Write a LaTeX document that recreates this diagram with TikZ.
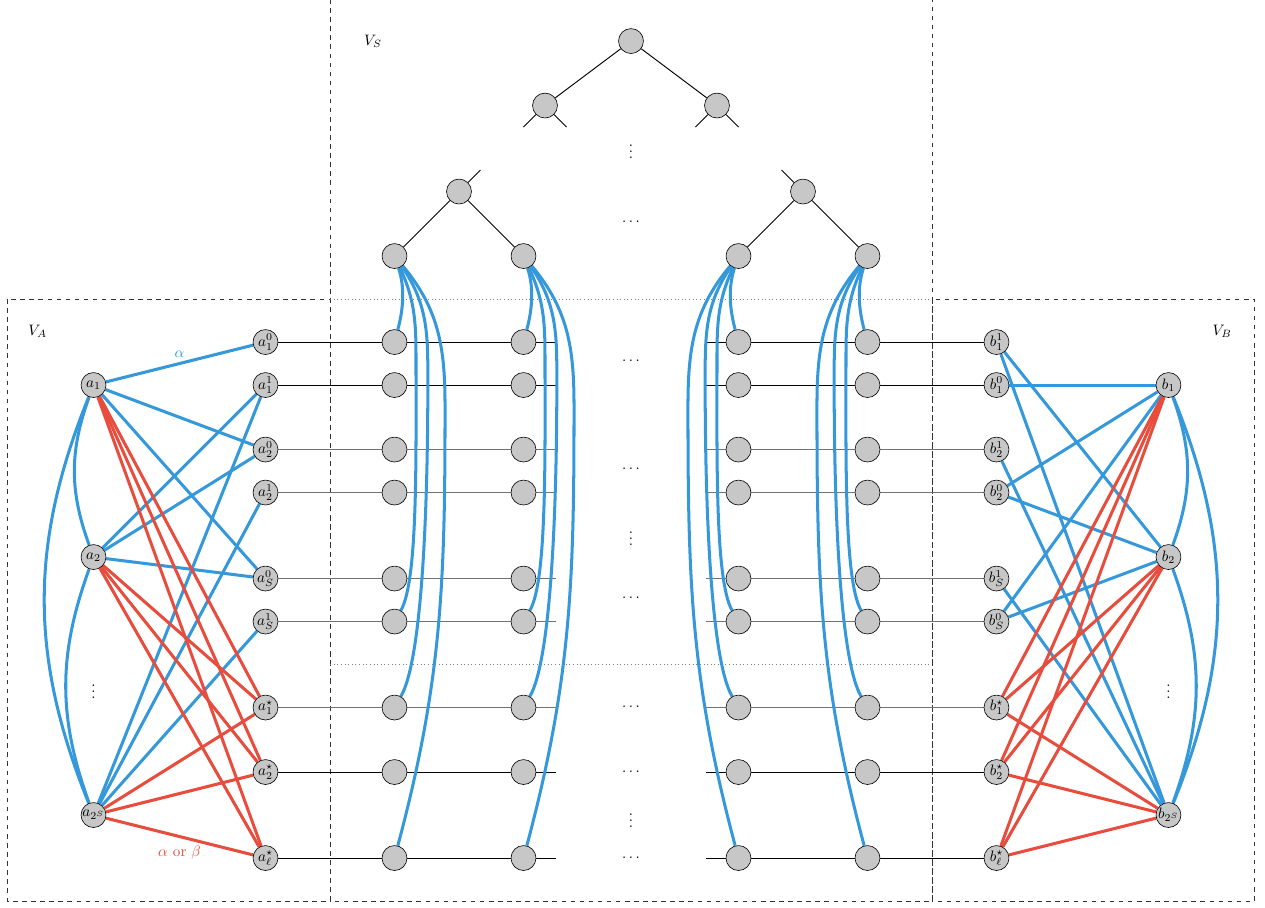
\documentclass[tikz,border=0pt]{standalone}
\usetikzlibrary{backgrounds}
\definecolor{eblue}{HTML}{3498DB}
\definecolor{ered}{HTML}{E74C3C}
\tikzset{
	vx/.style={circle,draw,fill=black!22,minimum size=0.58cm,inner sep=0pt},
	eb/.style={line width=2pt,eblue},
	er/.style={line width=2pt,ered},
	boxline/.style={dashed,black!80},
}
\begin{document}
\begin{tikzpicture}[x=0.5cm,y=0.5cm]
\useasboundingbox (-29.35,-26.28) rectangle (29.49,15.91);
% tree of V_S
\node[vx] (root) at (0,14) {};
\node[vx] (tl) at (-4,11) {};
\node[vx] (tr) at (4,11) {};
\node[vx] (ml) at (-8,7) {};
\node[vx] (mr) at (8,7) {};
\node[vx] (L1) at (-11,4) {};
\node[vx] (L2) at (-5,4) {};
\node[vx] (R1) at (5,4) {};
\node[vx] (R2) at (11,4) {};
\coordinate (tl1) at (-5,10); \coordinate (tl2) at (-3,10);
\coordinate (tr1) at (3,10); \coordinate (tr2) at (5,10);
\coordinate (ml0) at (-7,8); \coordinate (mr0) at (7,8);
\draw[semithick] (root) -- (tl); \draw[semithick] (root) -- (tr);
\draw[semithick] (tl) -- (tl1); \draw[semithick] (tl) -- (tl2);
\draw[semithick] (tr) -- (tr1); \draw[semithick] (tr) -- (tr2);
\draw[semithick] (ml) -- (ml0); \draw[semithick] (mr) -- (mr0);
\draw[semithick] (ml) -- (L1); \draw[semithick] (ml) -- (L2);
\draw[semithick] (mr) -- (R1); \draw[semithick] (mr) -- (R2);
\node (vd0) at (0,9.05) {$\vdots$};
\node (cd0) at (0,5.6) {$\cdots$};

% rows
\foreach \n/\y/\la/\lb in {1/0/{a_1^0}/{b_1^1}, 2/-2/{a_1^1}/{b_1^0}, 3/-5/{a_2^0}/{b_2^1}, 4/-7/{a_2^1}/{b_2^0}, 5/-11/{a_S^0}/{b_S^1}, 6/-13/{a_S^1}/{b_S^0}, 7/-17/{a_1^\star}/{b_1^\star}, 8/-20/{a_2^\star}/{b_2^\star}, 9/-24/{a_\ell^\star}/{b_\ell^\star}}{
	\node[vx] (a\n) at (-17,\y) {$\la$};
	\node[vx] (s\n) at (-11,\y) {};
	\node[vx] (t\n) at (-5,\y) {};
	\node[vx] (u\n) at (5,\y) {};
	\node[vx] (v\n) at (11,\y) {};
	\node[vx] (b\n) at (17,\y) {$\lb$};
	\coordinate (el\n) at (-3.5,\y);
	\coordinate (er\n) at (3.5,\y);
}
\node (cd1) at (0,-0.9) {$\cdots$};
\node (cd2) at (0,-5.9) {$\cdots$};
\node (vd1) at (0,-8.95) {$\vdots$};
\node (cd3) at (0,-11.9) {$\cdots$};
\node (cd4) at (0,-17) {$\cdots$};
\node (cd5) at (0,-20) {$\cdots$};
\node (vd2) at (0,-22.05) {$\vdots$};
\node (cd6) at (0,-24) {$\cdots$};

% V_A and V_B
\node[vx] (A1) at (-25,-2) {$a_1$};
\node[vx] (A2) at (-25,-10) {$a_2$};
\node[vx] (A3) at (-25,-22) {$a_{2^S}$};
\node[vx] (B1) at (25,-2) {$b_1$};
\node[vx] (B2) at (25,-10) {$b_2$};
\node[vx] (B3) at (25,-22) {$b_{2^S}$};
\node (vdA) at (-25,-16.05) {$\vdots$};
\node (vdB) at (25,-16.05) {$\vdots$};

\node (VA) at (-27.6,0.5) {$V_A$};
\node (VB) at (27.5,0.5) {$V_B$};
\node (VS) at (-12,14) {$V_S$};

\begin{pgfonlayer}{background}
\draw[boxline] (-29,2) rectangle (-14,-26);
\draw[boxline] (14,2) rectangle (29,-26);
\draw[boxline] (-14,15.95) -- (-14,-26) -- (14,-26) -- (14,15.95);
\draw[dotted,black!50] (-14,2) -- (14,2);
\draw[dotted,black!50] (-14,-15) -- (14,-15);

\foreach \n/\c/\w in {1/black/0.6,2/black/0.6,3/black!55/0.8,4/black!55/0.8,5/black!55/0.8,6/black!55/0.8,7/black!55/0.8,8/black/0.6,9/black/0.6}{
	\draw[line width=\w pt,\c] (a\n) -- (el\n);
	\draw[line width=\w pt,\c] (er\n) -- (b\n);
}

% leaves down to the rows
\draw[eb] (L1) .. controls +(0.5,-1.5) and +(0.4,1.5) .. (s1);
\draw[eb] (L2) .. controls +(0.5,-1.5) and +(0.4,1.5) .. (t1);
\draw[eb] (R1) .. controls +(-0.5,-1.5) and +(-0.4,1.5) .. (u1);
\draw[eb] (R2) .. controls +(-0.5,-1.5) and +(-0.4,1.5) .. (v1);
\foreach \n/\o/\oo/\dx/\dy/\k/\kk/\l in {6/-65/-115/1.0/-5/60/120/0.35, 7/-55/-125/1.55/-6/60/120/0.35, 9/-50/-130/2.35/-7/75/105/1}{
	\draw[eb] (L1) to[out=\o,in=90] ++(\dx,\dy) to[out=-90,in=\k,in looseness=\l] (s\n);
	\draw[eb] (L2) to[out=\o,in=90] ++(\dx,\dy) to[out=-90,in=\k,in looseness=\l] (t\n);
	\draw[eb] (R1) to[out=\oo,in=90] ++(-\dx,\dy) to[out=-90,in=\kk,in looseness=\l] (u\n);
	\draw[eb] (R2) to[out=\oo,in=90] ++(-\dx,\dy) to[out=-90,in=\kk,in looseness=\l] (v\n);
}

% left side
\draw[eb] (A1) -- node[above,eblue] {$\alpha$} (a1);
\draw[eb] (A1) -- (a3); \draw[eb] (A1) -- (a5);
\draw[eb] (A2) -- (a2); \draw[eb] (A2) -- (a3); \draw[eb] (A2) -- (a5);
\draw[eb] (A3) -- (a2); \draw[eb] (A3) -- (a4); \draw[eb] (A3) -- (a6);
\draw[eb] (A1) to[bend right=20] (A2);
\draw[eb] (A1) to[bend right=22] (A3);
\draw[eb] (A2) to[bend right=20] (A3);
\foreach \m in {7,8}{
	\draw[er] (A1) -- (a\m); \draw[er] (A2) -- (a\m); \draw[er] (A3) -- (a\m);
}
\draw[er] (A1) -- (a9); \draw[er] (A2) -- (a9);
\draw[er] (A3) -- node[below=2pt,ered] {$\alpha$ or $\beta$} (a9);

% right side
\draw[eb] (B1) -- (b2); \draw[eb] (B1) -- (b4); \draw[eb] (B1) -- (b6);
\draw[eb] (B2) -- (b1); \draw[eb] (B2) -- (b4); \draw[eb] (B2) -- (b6);
\draw[eb] (B3) -- (b1); \draw[eb] (B3) -- (b3); \draw[eb] (B3) -- (b5);
\draw[eb] (B1) to[bend left=20] (B2);
\draw[eb] (B1) to[bend left=22] (B3);
\draw[eb] (B2) to[bend left=20] (B3);
\foreach \m in {7,8,9}{
	\draw[er] (B1) -- (b\m); \draw[er] (B2) -- (b\m); \draw[er] (B3) -- (b\m);
}
\end{pgfonlayer}
\end{tikzpicture}
\end{document}
